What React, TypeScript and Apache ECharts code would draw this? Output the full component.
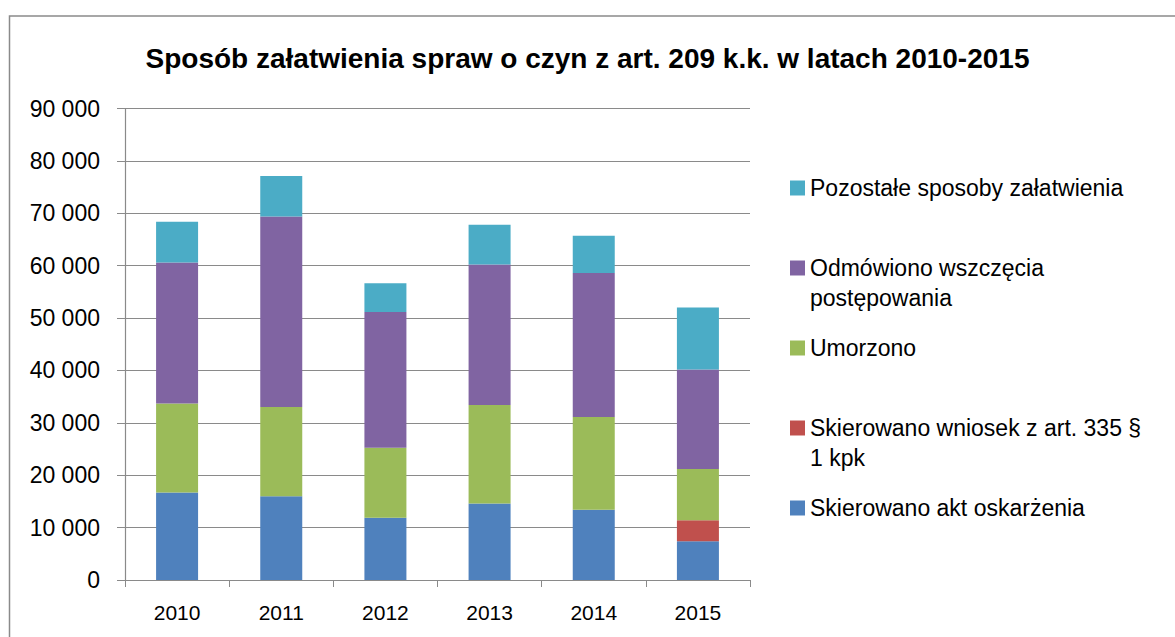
import React, { useEffect, useRef } from "react";
import * as echarts from "echarts";

const years = ["2010", "2011", "2012", "2013", "2014", "2015"];
const aktOskarzenia = [16700, 16000, 11900, 14600, 13400, 7400];
const wniosek335 = [0, 0, 0, 0, 0, 4000];
const umorzono = [17000, 17000, 13350, 18800, 17700, 9800];
const odmowiono = [26900, 36400, 25900, 26800, 27500, 19000];
const pozostale = [7800, 7700, 5500, 7600, 7100, 11800];

const seriesNames = [
  "Skierowano akt oskarżenia",
  "Skierowano wniosek z art. 335 § 1 kpk",
  "Umorzono",
  "Odmówiono wszczęcia postępowania",
  "Pozostałe sposoby załatwienia",
];
// first and second line of each legend entry
const legendFirstLines = [
  "Skierowano akt oskarżenia",
  "Skierowano wniosek z art. 335 §",
  "Umorzono",
  "Odmówiono wszczęcia",
  "Pozostałe sposoby załatwienia",
];
const legendSecondLines = ["", "1 kpk", "", "postępowania", ""];
const seriesValues = [aktOskarzenia, wniosek335, umorzono, odmowiono, pozostale];
const colors = ["#4F81BD", "#C0504D", "#9BBB59", "#8064A2", "#4BACC6"];
const legendCenters = [508, 428, 348, 268, 188];

const FONT = "Liberation Sans";
const LEGEND_LEFT = 790;
const LEGEND_TEXT_X = 810;
const LEGEND_FONT = 23;

export default function App() {
  const ref = useRef<HTMLDivElement>(null);
  useEffect(() => {
    if (!ref.current) return;
    const chart = echarts.init(ref.current, null, { renderer: "svg" });
    const legends = seriesNames.map((name, i) => ({
      show: true,
      data: [name],
      left: LEGEND_LEFT,
      top: legendCenters[i] - 15,
      padding: 0,
      orient: "vertical",
      itemWidth: 15,
      itemHeight: 15,
      itemGap: 0,
      icon: "rect",
      selectedMode: false,
      formatter: () => legendFirstLines[i],
      textStyle: { fontFamily: FONT, fontSize: LEGEND_FONT, color: "#000", lineHeight: 30 },
    }));
    const secondLines = legendSecondLines
      .map((t, i) => ({ t, i }))
      .filter((o) => o.t)
      .map((o) => ({
        type: "text",
        x: LEGEND_TEXT_X,
        y: legendCenters[o.i] + 30,
        silent: true,
        style: {
          text: o.t,
          fontFamily: FONT,
          fontSize: LEGEND_FONT,
          fill: "#000",
          verticalAlign: "middle",
          align: "left",
        },
      }));
    chart.setOption({
      animation: false,
      color: colors,
      textStyle: { fontFamily: FONT },
      title: {
        text: "Sposób załatwienia spraw o czyn z art. 209 k.k. w latach 2010-2015",
        left: "center",
        top: 39,
        textStyle: { fontFamily: FONT, fontSize: 28, fontWeight: "bold", color: "#000" },
      },
      graphic: [
        {
          type: "rect",
          shape: { x: 9.5, y: 16, width: 1200, height: 700 },
          style: { fill: "none", stroke: "#8a8a8a", lineWidth: 1.5 },
          silent: true,
        },
        ...secondLines,
      ],
      legend: legends,
      grid: { left: 125, right: 425, top: 108.5, bottom: 57, containLabel: false },
      xAxis: {
        type: "category",
        data: years,
        axisLine: { show: true, lineStyle: { color: "#8a8a8a", width: 1.2 } },
        axisTick: { show: true, length: 7, lineStyle: { color: "#8a8a8a" } },
        axisLabel: { fontFamily: FONT, fontSize: 21, color: "#000", margin: 22 },
      },
      yAxis: {
        type: "value",
        min: 0,
        max: 90000,
        interval: 10000,
        axisLine: { show: true, lineStyle: { color: "#8a8a8a", width: 1.2 } },
        axisTick: { show: true, inside: false, length: 8, lineStyle: { color: "#8a8a8a" } },
        splitLine: { show: true, lineStyle: { color: "#8a8a8a", width: 1.2 } },
        axisLabel: {
          fontFamily: FONT,
          fontSize: 23,
          color: "#000",
          margin: 25,
          formatter: (v: number) => (v === 0 ? "0" : `${Math.round(v / 1000)} 000`),
        },
      },
      series: seriesNames.map((name, i) => ({
        name,
        type: "bar",
        stack: "total",
        data: seriesValues[i],
        barWidth: 42,
        itemStyle: { color: colors[i] },
      })),
    });
    return () => chart.dispose();
  }, []);
  return <div ref={ref} style={{ width: 1175, height: 637, position: "absolute", left: 0, top: 0 }} />;
}
